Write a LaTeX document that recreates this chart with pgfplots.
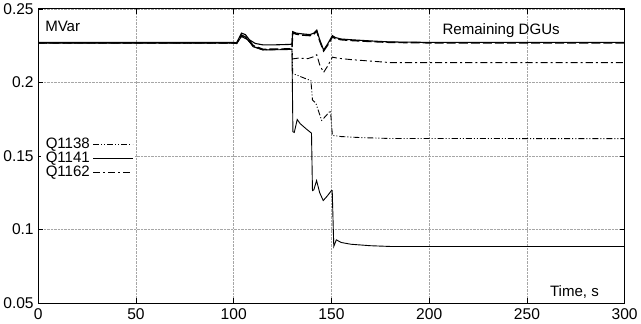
\documentclass[border=0pt]{standalone}
\usepackage{pgfplots}
\pgfplotsset{compat=1.18}
\usepackage{fontspec}
\setmainfont{Liberation Sans}
\begin{document}
\begin{tikzpicture}
\begin{axis}[
  scale only axis, width=584pt, height=293pt,
  xmin=0, xmax=300, ymin=0.05, ymax=0.25,
  xtick={0,50,...,300},
  ytick={0.05,0.1,0.15,0.2,0.25},
  yticklabels={0.05,0.1,0.15,0.2,0.25},
  /pgf/number format/assume math mode=true,
  tick label style={font=\fontsize{15.5}{17}\selectfont},
  xticklabel style={yshift=-2pt},
  yticklabel style={xshift=-1pt},
  tick align=inside, major tick length=5pt,
  tick style={black, line width=0.6pt},
  grid=major, major grid style={densely dotted, gray!70, line width=0.5pt},
  axis line style={black, line width=0.9pt},
  legend plot pos=right,
  legend cell align=left,
  legend style={at={(0.004,0.568)}, anchor=north west, draw=none, fill=white,
    font=\fontsize{15}{16}\selectfont, row sep=0pt, inner xsep=2pt, inner ysep=1pt,
    nodes={inner xsep=3pt, inner ysep=1pt}},
  legend image code/.code={\draw[#1] (3pt,0pt) -- (42pt,0pt);},
  clip=true,
]
% Remaining DGUs (upper band)
\addplot[black, line width=1.1pt, forget plot] coordinates {
(0,0.2272)(100,0.2272)(101.5,0.2268)(104,0.2335)(106,0.2325)(108,0.229)(111,0.2265)(115,0.2255)(120,0.2255)(128,0.2258)(129.8,0.226)
(130.2,0.2345)(132,0.2335)(135,0.233)(139,0.2325)(141,0.2335)(142.5,0.2355)(144,0.229)(146,0.222)(148,0.226)(150.5,0.2318)(152,0.2305)(155,0.2295)(160,0.229)(170,0.2282)(180,0.2275)(200,0.2272)(300,0.2272)};
\addplot[black, line width=1.4pt, dash pattern=on 9pt off 3pt, forget plot] coordinates {
(0,0.2268)(100,0.2268)(101.5,0.2266)(104,0.2322)(107,0.2302)(110,0.2250)(115,0.2225)(128,0.2228)(129.8,0.2230)
(130.2,0.2338)(132,0.2328)(135,0.2322)(139,0.2318)(141,0.2328)(142.5,0.2348)(144,0.2282)(146,0.2214)(148,0.2252)(150.5,0.2310)(152,0.2298)(155,0.2290)(160,0.2285)(170,0.2278)(180,0.2272)(200,0.2269)(300,0.2269)};
% Q1138
\addplot[black, line width=0.9pt, dash pattern=on 6pt off 2pt on 1pt off 2pt on 1pt off 2pt] coordinates {
(0,0.2268)(100,0.2268)(101.5,0.2266)(104,0.2315)(107,0.2295)(110,0.2245)(115,0.2222)(129.8,0.2226)
(130.2,0.2058)(132,0.2052)(135,0.2035)(139.5,0.2012)(140.3,0.1880)(142,0.1860)(145,0.1742)(147,0.1770)(149.5,0.1808)(150.5,0.1640)(155,0.1632)(165,0.1625)(180,0.1619)(300,0.1618)};
\addlegendentry{Q1138}
% Q1141
\addplot[black, line width=0.9pt] coordinates {
(0,0.2266)(100,0.2266)(101.5,0.2264)(104,0.2312)(107,0.2292)(110,0.2242)(115,0.2220)(129.8,0.2224)
(130.3,0.1665)(131,0.1660)(132.5,0.1748)(134,0.1720)(137,0.1685)(139.8,0.1655)(140.3,0.1265)(141,0.1270)(142.4,0.1333)(144,0.1250)(145.8,0.1197)(148,0.1230)(150,0.1265)(150.4,0.1265)(151.2,0.0885)(152.5,0.0930)(155,0.0912)(160,0.0900)(170,0.0890)(180,0.0885)(300,0.0885)};
\addlegendentry{Q1141}
% Q1162
\addplot[black, line width=0.9pt, dash pattern=on 7pt off 3pt on 2pt off 3pt] coordinates {
(0,0.2268)(100,0.2268)(101.5,0.2266)(104,0.2315)(107,0.2293)(110,0.2245)(115,0.2222)(129.8,0.2227)
(130.2,0.2160)(133,0.2165)(138,0.2162)(141,0.2175)(142.5,0.2188)(144,0.2120)(146,0.2068)(148,0.2110)(150.5,0.2172)(153,0.2165)(160,0.2155)(170,0.2145)(180,0.2135)(300,0.2134)};
\addlegendentry{Q1162}
\node[anchor=west, font=\fontsize{15}{17}\selectfont] at (axis description cs:0.006,0.94) {MVar};
\node[anchor=west, font=\fontsize{15}{17}\selectfont] at (axis cs:205,0.2352) {Remaining DGUs};
\node[anchor=west, font=\fontsize{15}{17}\selectfont] at (axis cs:260,0.0573) {Time, s};
\end{axis}
\end{tikzpicture}
\end{document}
